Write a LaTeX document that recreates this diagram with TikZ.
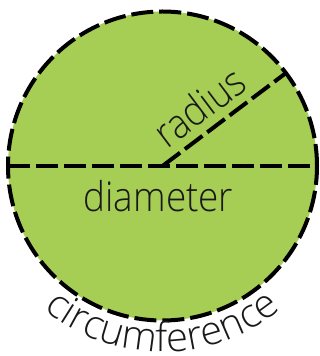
\documentclass[tikz,border=0pt]{standalone}
\usepackage{fontspec}
\setmainfont{Open Sans Light}[FakeStretch=0.9]
\newfontfamily\circfamily{Open Sans Light}
\usepackage{tikz}
\usetikzlibrary{calc, decorations.text}
\definecolor{mygreen}{RGB}{166,205,84}
\definecolor{myink}{RGB}{25,25,25}
\newcommand{\lblfont}{\fontsize{41}{45}\selectfont}
\newcommand{\circfont}{\circfamily\fontsize{40}{44}\selectfont}
\tikzset{
  disc/.style={circle, draw=black, fill=mygreen, minimum size=309pt, inner sep=0pt, outer sep=0pt, line width=4pt, dash pattern=on 22pt off 6pt},
  cut/.style={line width=4pt, color=black, dash pattern=on 22pt off 6pt},
  lbl/.style={font=\lblfont, text=myink, inner sep=0pt}
}
\begin{document}
\begin{tikzpicture}[x=1pt, y=1pt]
  \useasboundingbox (0,0) rectangle (320,356);

  % the circle
  \node[disc] (circ) at (162.5,190) {};

  % diameter and radius
  \draw[cut] (circ.west) -- (circ.east);
  \draw[cut] (circ.center) -- (circ.37);

  % labels
  \node[lbl, anchor=base, rotate=37] (rad) at ($(circ.center)!0.42!(circ.37)+(127:10)$) {radius};
  \node[lbl, anchor=base] (dia) at (158.5,144) {diameter};
  \path[decorate, decoration={text along path, text align=center, text color=myink,
      text={|\circfont|circumference}}]
    ($(circ.center)+(215:186)$) arc[start angle=215, end angle=325, radius=186];
\end{tikzpicture}
\end{document}
